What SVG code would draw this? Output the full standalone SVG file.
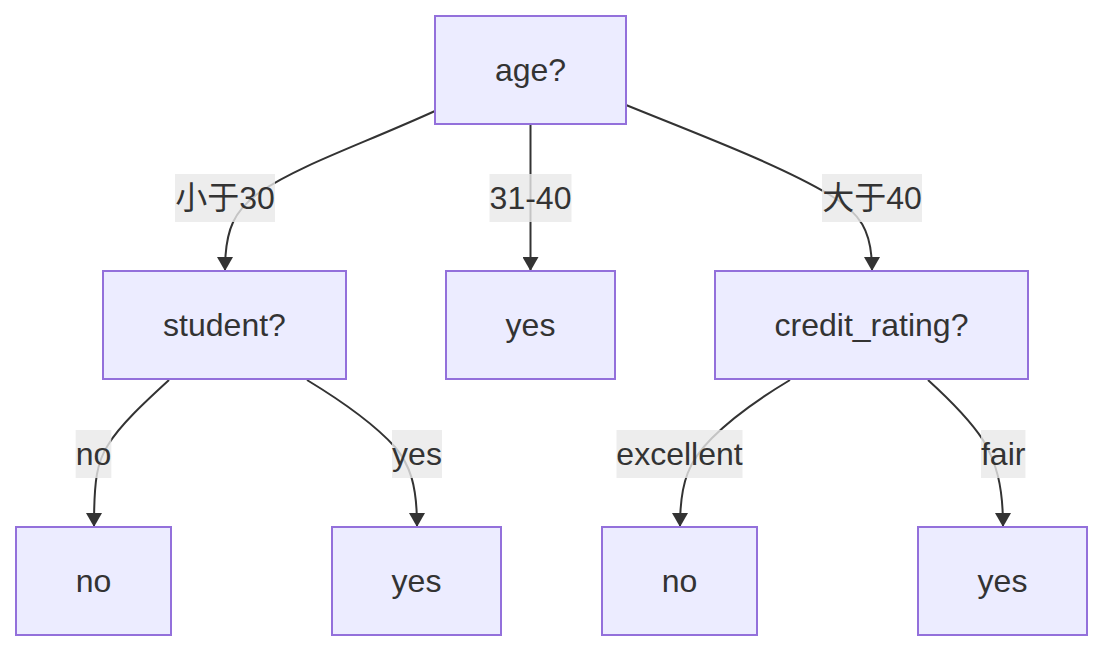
<svg xmlns="http://www.w3.org/2000/svg" width="1104" height="652" viewBox="0 0 1104 652">
<defs>
<marker id="arrow" viewBox="0 0 14 16" refX="13" refY="8" markerWidth="14" markerHeight="16" markerUnits="userSpaceOnUse" orient="auto">
<path d="M0,0 L14,8 L0,16 z" fill="#333333"/>
</marker>
<style>
.node rect{fill:#ECECFF;stroke:#9370DB;stroke-width:2}
.node text,.label text{font-family:"Liberation Sans",Arial,"Noto Sans CJK SC",sans-serif;font-size:32px;fill:#333333;text-anchor:middle}
.edges path{fill:none;stroke:#333333;stroke-width:2;marker-end:url(#arrow)}
.label rect{fill:rgba(232,232,232,0.8)}
</style>
</defs>
<rect width="1104" height="652" fill="#ffffff"/>
<g class="edges" id="edges">
<path d="M435,111 C360,145 300,165 260,192 C235,210 225,228 225,270"/>
<path d="M530.5,124 L530.5,270"/>
<path d="M626,105 C700,135 780,165 830,195 C860,213 872,230 872,270"/>
<path d="M169,380 C145,402 120,425 108,445 C97,462 94,480 94,526"/>
<path d="M307,380 C340,400 375,425 395,447 C410,465 417,485 417,526"/>
<path d="M790,380 C760,398 730,420 712,438 C690,460 680,480 680,526"/>
<path d="M928,380 C950,400 970,420 983,440 C996,462 1003,485 1003,526"/>
</g>
<g id="edge-labels">
<g class="label" id="l-lt30"><rect x="175" y="174" width="100" height="48"/><text x="225" y="209">小于30</text></g>
<g class="label" id="l-3140"><rect x="489.5" y="174" width="82" height="48"/><text x="530.5" y="209">31-40</text></g>
<g class="label" id="l-gt40"><rect x="822" y="174" width="100" height="48"/><text x="872" y="209">大于40</text></g>
<g class="label" id="l-no"><rect x="75.7" y="430" width="35.6" height="48"/><text x="93.5" y="465">no</text></g>
<g class="label" id="l-yes"><rect x="392" y="430" width="50" height="48"/><text x="417" y="465">yes</text></g>
<g class="label" id="l-exc"><rect x="616.5" y="430" width="126" height="48"/><text x="679.5" y="465">excellent</text></g>
<g class="label" id="l-fair"><rect x="981" y="430" width="44.4" height="48"/><text x="1003.2" y="465">fair</text></g>
</g>
<g class="node" id="n-age"><rect x="435" y="16" width="191" height="108"/><text x="530.5" y="81">age?</text></g>
<g class="node" id="n-student"><rect x="103" y="271" width="243" height="108"/><text x="224.5" y="336">student?</text></g>
<g class="node" id="n-yes1"><rect x="446" y="271" width="169" height="108"/><text x="530.5" y="336">yes</text></g>
<g class="node" id="n-credit"><rect x="715" y="271" width="313" height="108"/><text x="871.5" y="336">credit_rating?</text></g>
<g class="node" id="n-no1"><rect x="16" y="527" width="155" height="108"/><text x="93.5" y="592">no</text></g>
<g class="node" id="n-yes2"><rect x="332" y="527" width="169" height="108"/><text x="416.5" y="592">yes</text></g>
<g class="node" id="n-no2"><rect x="602" y="527" width="155" height="108"/><text x="679.5" y="592">no</text></g>
<g class="node" id="n-yes3"><rect x="918" y="527" width="169" height="108"/><text x="1002.5" y="592">yes</text></g>
</svg>
